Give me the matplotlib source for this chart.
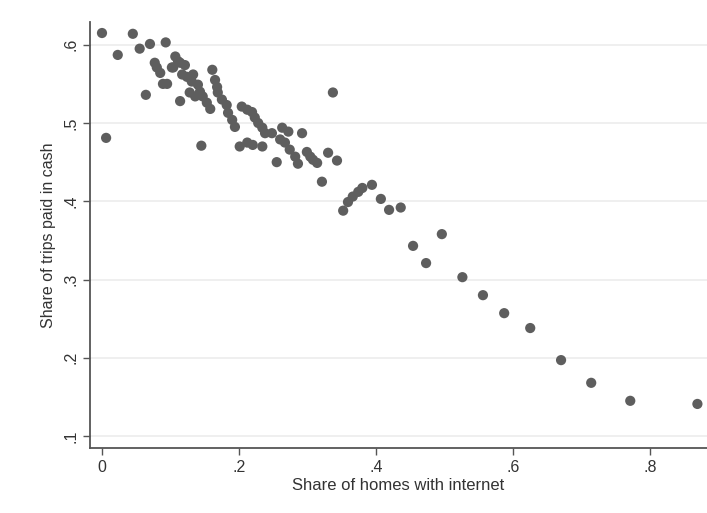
import matplotlib
matplotlib.use("Agg")
import matplotlib.pyplot as plt

plt.rcParams['font.family'] = ['Liberation Sans', 'DejaVu Sans']

# share of homes with internet / share of trips paid in cash
internet = [
    0.000, 0.006, 0.023, 0.045, 0.055, 0.070, 0.093, 0.064, 0.114, 0.145,
    0.077, 0.080, 0.085, 0.089, 0.095, 0.107, 0.104, 0.114, 0.121, 0.117,
    0.124, 0.133, 0.131, 0.140, 0.128, 0.136, 0.147, 0.153, 0.158, 0.161,
    0.165, 0.168, 0.169, 0.175, 0.182, 0.184, 0.190, 0.194, 0.204, 0.212,
    0.201, 0.212, 0.220, 0.234, 0.219, 0.223, 0.228, 0.234, 0.238, 0.248,
    0.255, 0.263, 0.272, 0.260, 0.267, 0.274, 0.282, 0.286, 0.292, 0.299,
    0.304, 0.308, 0.314, 0.321, 0.330, 0.337, 0.343, 0.111, 0.102, 0.143,
    0.352, 0.359, 0.366, 0.374, 0.380, 0.394, 0.407, 0.419, 0.436, 0.454,
    0.473, 0.496, 0.526, 0.556, 0.587, 0.625, 0.670, 0.714, 0.771, 0.869,
]
cash = [
    0.615, 0.481, 0.587, 0.614, 0.595, 0.601, 0.603, 0.536, 0.528, 0.471,
    0.577, 0.571, 0.564, 0.550, 0.550, 0.585, 0.571, 0.577, 0.574, 0.562,
    0.559, 0.562, 0.553, 0.549, 0.539, 0.534, 0.534, 0.526, 0.518, 0.568,
    0.555, 0.546, 0.539, 0.530, 0.523, 0.513, 0.504, 0.495, 0.521, 0.517,
    0.470, 0.475, 0.472, 0.470, 0.514, 0.507, 0.500, 0.494, 0.487, 0.487,
    0.450, 0.494, 0.489, 0.479, 0.475, 0.466, 0.457, 0.448, 0.487, 0.463,
    0.457, 0.453, 0.449, 0.425, 0.462, 0.539, 0.452, 0.579, 0.571, 0.540,
    0.388, 0.399, 0.406, 0.412, 0.417, 0.421, 0.403, 0.389, 0.392, 0.343,
    0.321, 0.358, 0.303, 0.280, 0.257, 0.238, 0.197, 0.168, 0.145, 0.141,
]

xticks = [0, 0.2, 0.4, 0.6, 0.8]
xlabels = ["0", ".2", ".4", ".6", ".8"]
yticks = [0.1, 0.2, 0.3, 0.4, 0.5, 0.6]
ylabels = [".1", ".2", ".3", ".4", ".5", ".6"]

fig = plt.figure(figsize=(7.07, 5.13), dpi=100, facecolor="white")
ax = fig.add_axes([0.1273, 0.1267, 0.8727, 0.8303])

ax.scatter(internet, cash, s=54, color="#5e5e5e", edgecolors="none", zorder=3)

ax.set_xlim(-0.0175, 0.883)
ax.set_ylim(0.0847, 0.629)

ax.set_xticks(xticks)
ax.set_xticklabels(xlabels)
ax.set_yticks(yticks)
ax.set_yticklabels(ylabels, rotation=90, va="center")

ax.grid(axis="y", color="#ececec", linewidth=1.2, zorder=0)
ax.grid(axis="x", visible=False)

for side in ["top", "right"]:
    ax.spines[side].set_visible(False)
for side in ["left", "bottom"]:
    ax.spines[side].set_color("#555555")
    ax.spines[side].set_linewidth(1.3)

ax.tick_params(axis="both", colors="#555555", labelcolor="#333333",
               labelsize=11.5, length=5, width=1)

ax.set_xlabel("Share of homes with internet", fontsize=12, color="#333333", labelpad=2)
ax.set_ylabel("Share of trips paid in cash", fontsize=11.5, color="#333333", labelpad=5)

fig.savefig("out.png", dpi=100, facecolor="white")
